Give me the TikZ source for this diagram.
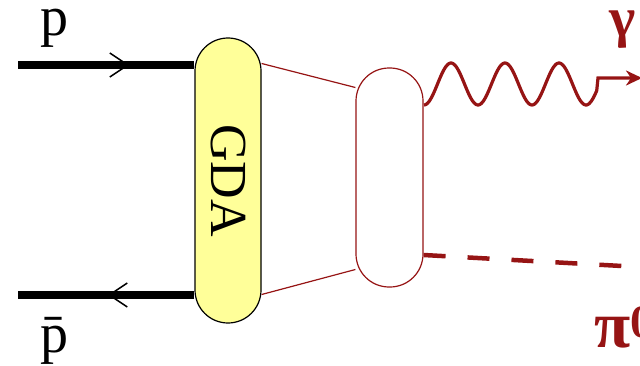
\documentclass[tikz,border=0pt]{standalone}
\usepackage{fontspec}
\setmainfont{Liberation Serif}
\usepackage{xcolor}
\usepackage{tikz}
\usetikzlibrary{arrows.meta,positioning,calc,decorations.markings}

\definecolor{darkred}{RGB}{150,20,20}
\definecolor{gdayellow}{RGB}{255,255,153}

\begin{document}
\begin{tikzpicture}[
  x=1pt, y=1pt,
  blob/.style={rectangle, rounded corners=33pt, inner sep=0pt},
  gdablob/.style={blob, draw=black, line width=1.2pt, fill=gdayellow, minimum width=66pt, minimum height=285pt, font=\fontsize{52}{56}\selectfont},
  hadblob/.style={blob, draw=darkred, line width=1.2pt, fill=white, minimum width=67pt, minimum height=219pt},
  proton/.style={line width=8pt, postaction={decorate}, decoration={markings, mark=at position #1 with {\arrow{Straight Barb[length=18pt, width=24pt, line width=1.5pt]}}}},
  link/.style={draw=darkred, line width=1.2pt},
  photon/.style={draw=darkred, line width=3.2pt, -{Stealth[length=16pt, width=15pt, inset=5pt]}},
  pion/.style={draw=darkred, line width=4.5pt, dash pattern=on 22pt off 22pt},
  lbl/.style={font=\fontsize{56}{60}\selectfont, anchor=base, inner sep=0pt},
  redlbl/.style={lbl, text=darkred, font=\fontsize{56}{60}\selectfont\bfseries}
]
\useasboundingbox (0,0) rectangle (640,365);

\node[gdablob] (gda) at (228,184.5) {\rotatebox{-90}{GDA}};
\node[hadblob] (had) at (389.5,187.5) {};

\coordinate (pin) at (18,300);
\coordinate (pbarin) at (18,70);
\coordinate (gend) at (642,287);
\coordinate (piend) at (640,98);

% incoming beams
\draw[proton=0.63] (pin) -- (pin -| gda.west);
\draw[proton=0.49] (pbarin -| gda.west) -- (pbarin);

% GDA to final state
\draw[link] ($(gda.east)+(0,117)$) -- ($(had.west)+(0,90)$);
\draw[link] ($(gda.east)+(0,-114)$) -- ($(had.west)+(0,-92)$);

% outgoing photon and pion
\draw[photon] plot[domain=0:3.2, samples=140] ({424+54*\x},{281-21*cos(360*\x)}) -- (598,287) -- (gend);
\draw[pion] (had.east |- 0,110) -- (piend);

\node[lbl] (plbl) at (54,329) {p};
\node[lbl] (pbarlbl) at (54,13) {\=p};
\node[redlbl] (glbl) at (623,328) {γ};
\node[redlbl, anchor=base west, font=\fontsize{66}{70}\selectfont\bfseries] (pilbl) at (594,18) {π\textsuperscript{0}};

\end{tikzpicture}
\end{document}
